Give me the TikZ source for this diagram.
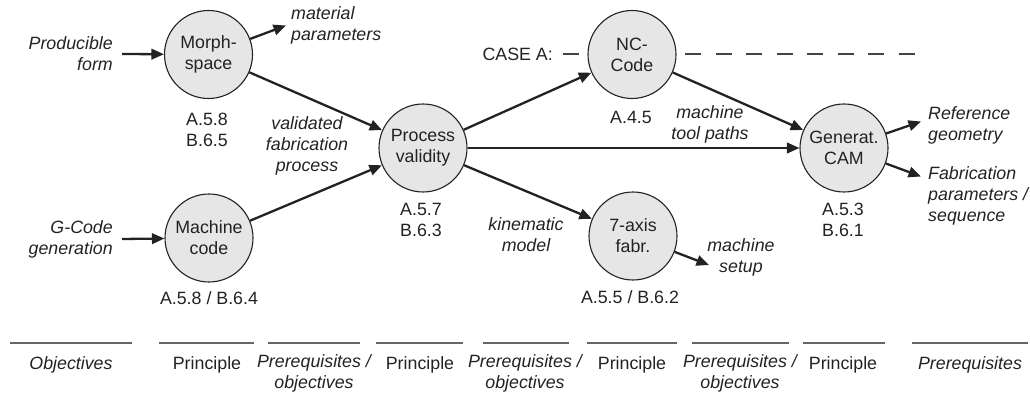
\documentclass[tikz,border=0pt]{standalone}
\usepackage{fontspec}
\setmainfont{Liberation Sans}
\usetikzlibrary{arrows.meta}
\definecolor{ink}{HTML}{222222}
\definecolor{disc}{HTML}{E6E6E6}
\definecolor{rule}{HTML}{666666}
\begin{document}
\begin{tikzpicture}[x=1pt,y=-1pt,
  every node/.style={font=\fontsize{17.8}{21}\selectfont, text=ink, inner sep=0pt},
  proc/.style={circle, draw=ink, line width=1.1pt, fill=disc, minimum size=88pt, align=center},
  flow/.style={font=\fontsize{17.8}{21}\selectfont\itshape, align=center},
  refs/.style={align=center},
  arr/.style={draw=ink, line width=2.3pt, -{Triangle[length=12.5pt,width=10.5pt]}},
  sep/.style={draw=rule, line width=2pt},
  casedash/.style={draw=ink!85, line width=1.3pt, dash pattern=on 16pt off 14.5pt}
]
\useasboundingbox (0,0) rectangle (1030,398);

% case A marker line, behind the process discs
\node[anchor=east] (casea) at (553,54) {CASE A:};
\coordinate (dashstart) at (563,54);
\coordinate (dashend) at (915,54);
\draw[casedash] (dashstart) -- (dashend);

% process discs
\node[proc] (morph) at (208.5,54.5) {Morph-\\space};
\node[proc] (mach)  at (209,238)    {Machine\\code};
\node[proc] (valid) at (423,148)    {Process\\validity};
\node[proc] (nc)    at (632,54.5)   {NC-\\Code};
\node[proc] (axis)  at (633,236)    {7-axis\\fabr.};
\node[proc] (cam)   at (844,148)    {Generat.\\CAM};

% inputs and outputs
\node[flow, anchor=east, align=right] (prod) at (113,54) {Producible\\form};
\node[flow, anchor=east, align=right] (gcode) at (113,239) {G-Code\\generation};
\node[flow, anchor=west, align=left] (mat) at (291,25.5) {material\\parameters};
\node[flow] (vfp) at (307,146) {validated\\fabrication\\process};
\node[flow] (mtp) at (710,124) {machine\\tool paths};
\node[flow] (kin) at (526,234.5) {kinematic\\model};
\node[flow] (setup) at (741,257.5) {machine\\setup};
\node[flow, anchor=west, align=left] (refg) at (928,125) {Reference\\geometry};
\node[flow, anchor=west, align=left] (fabp) at (928,195.5) {Fabrication\\parameters /\\sequence};

% section references
\node[refs] (rmorph) at (207,129.5) {A.5.8\\B.6.5};
\node[refs] (rmach)  at (209,298)   {A.5.8 / B.6.4};
\node[refs] (rvalid) at (421,220)   {A.5.7\\B.6.3};
\node[refs] (rnc)    at (631,117)   {A.4.5};
\node[refs] (raxis)  at (630,297)   {A.5.5 / B.6.2};
\node[refs] (rcam)   at (843,220)   {A.5.3\\B.6.1};

% arrow ends
\coordinate (matend) at (286,25.5);
\coordinate (setupend) at (709,265);
\coordinate (refend) at (921,121.5);
\coordinate (fabend) at (921,176.5);

% connectors
\draw[arr] ([xshift=9pt]prod.east) -- (morph);
\draw[arr] ([xshift=9pt]gcode.east) -- (mach);
\draw[arr] (morph) -- (matend);
\draw[arr] (morph) -- (valid);
\draw[arr] (mach) -- (valid);
\draw[arr] (valid) -- (nc);
\draw[arr] (valid) -- (cam);
\draw[arr] (valid) -- (axis);
\draw[arr] (nc) -- (cam);
\draw[arr] (axis) -- (setupend);
\draw[arr] (cam) -- (refend);
\draw[arr] (cam) -- (fabend);

% column rules and captions
\foreach \a/\b/\n in {10/132/1, 159/254/2, 268/360/3, 376/463/4, 483/569/5, 587/677/6, 692/789/7, 803/885/8, 912/1028/9}{
  \coordinate (ra\n) at (\a,343);
  \coordinate (rb\n) at (\b,343);
  \draw[sep] (ra\n) -- (rb\n);
}
\node[flow] (c1) at (71,365)  {Objectives};
\node       (c2) at (207,365) {Principle};
\node[flow, anchor=north] (c3) at (314,354.5) {Prerequisites /\\objectives};
\node       (c4) at (420,365) {Principle};
\node[flow, anchor=north] (c5) at (525,354.5) {Prerequisites /\\objectives};
\node       (c6) at (632,365) {Principle};
\node[flow, anchor=north] (c7) at (740,354.5) {Prerequisites /\\objectives};
\node       (c8) at (843,365) {Principle};
\node[flow] (c9) at (970,365) {Prerequisites};
\end{tikzpicture}
\end{document}
